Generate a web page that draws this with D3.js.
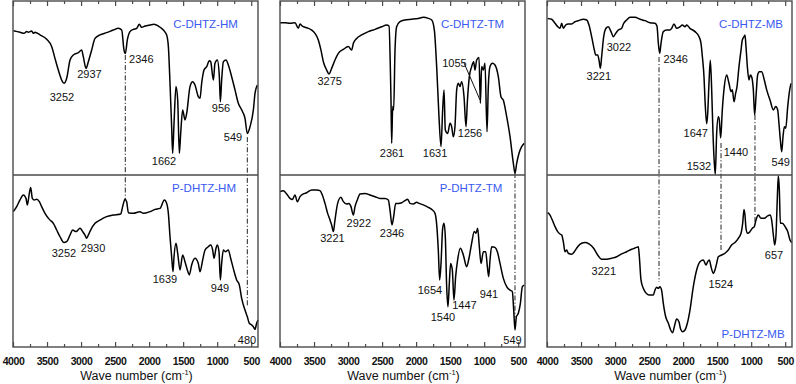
<!DOCTYPE html>
<html><head><meta charset="utf-8">
<script src="https://cdn.jsdelivr.net/npm/d3@7"></script>
<style>
body{margin:0;background:#fff;}
svg{display:block;font-family:"Liberation Sans",Arial,sans-serif;}
</style></head>
<body><svg id="c" width="796" height="384"></svg>
<script>
// ---------- DATA ----------
const majorTicks = [4000,3500,3000,2500,2000,1500,1000,500];
const minorTicks = [3750,3250,2750,2250,1750,1250,750];
const xTitle = "Wave number (cm";

const cHM = [[3995,82.9],[3897,82.0],[3838,81.4],[3799,82.4],[3775,82.0],[3726,82.8],[3701,81.4],[3677,82.0],[3603,80.5],[3505,78.0],[3432,73.8],[3383,67.0],[3334,60.3],[3285,54.6],[3251,52.7],[3211,55.6],[3162,66.1],[3113,69.0],[3040,70.3],[2991,71.8],[2967,68.0],[2927,61.3],[2893,65.1],[2844,71.8],[2795,78.5],[2722,80.5],[2624,81.8],[2526,83.3],[2452,84.3],[2403,83.3],[2369,71.8],[2349,69.9],[2320,77.6],[2281,82.4],[2232,83.7],[2183,84.3],[2144,86.6],[2109,84.9],[2060,85.6],[1987,86.2],[1928,86.6],[1864,85.6],[1791,83.3],[1742,80.5],[1717,73.8],[1693,52.7],[1669,27.8],[1654,12.5],[1634,29.7],[1605,50.8],[1580,43.1],[1556,12.5],[1536,23.9],[1507,37.4],[1473,31.6],[1448,35.4],[1399,50.8],[1360,53.6],[1326,51.7],[1277,45.0],[1252,44.1],[1228,52.7],[1193,60.3],[1154,62.3],[1115,65.7],[1095,65.1],[1056,54.6],[1032,64.2],[998,66.1],[968,56.5],[953,42.1],[934,54.6],[909,65.1],[870,66.1],[836,63.2],[787,56.5],[738,48.9],[689,41.2],[640,37.4],[591,32.6],[557,23.9],[517,27.8],[468,37.4],[444,46.9],[410,51.7]];

const pHM = [[3995,78.7],[3946,81.6],[3897,85.5],[3848,88.4],[3809,86.4],[3789,82.6],[3760,89.3],[3740,92.8],[3716,86.4],[3687,85.5],[3652,85.9],[3613,84.5],[3579,81.6],[3530,77.7],[3466,74.2],[3407,71.9],[3358,68.0],[3309,64.1],[3251,60.7],[3211,61.2],[3162,65.1],[3123,68.0],[3074,67.1],[3015,69.0],[2976,67.1],[2942,65.1],[2918,63.2],[2893,65.1],[2859,68.0],[2795,71.9],[2722,73.8],[2624,75.8],[2526,76.7],[2418,77.3],[2389,81.6],[2354,85.9],[2330,84.5],[2305,78.1],[2232,77.7],[2134,78.7],[2085,77.7],[1987,78.7],[1913,80.0],[1840,80.6],[1776,85.5],[1742,83.5],[1717,77.7],[1693,64.1],[1669,52.5],[1649,43.8],[1634,52.5],[1605,60.3],[1580,54.5],[1546,44.8],[1507,53.5],[1473,49.6],[1438,44.8],[1409,41.9],[1375,47.7],[1326,51.6],[1277,48.6],[1252,43.8],[1213,50.6],[1178,56.4],[1130,58.3],[1095,59.3],[1066,56.4],[1046,51.6],[1017,57.4],[998,59.3],[973,55.4],[953,39.0],[934,48.6],[909,56.4],[880,55.4],[836,56.4],[802,51.6],[763,45.7],[714,39.0],[674,36.0],[640,28.3],[591,21.5],[557,17.6],[528,13.8],[493,12.8],[468,11.8],[444,10.3],[420,13.8],[400,15.7]];

const cTM = [[4000,87.5],[3927,87.5],[3853,87.2],[3780,87.5],[3731,84.3],[3706,86.8],[3672,85.6],[3633,84.9],[3584,84.3],[3535,83.3],[3486,81.4],[3437,77.6],[3398,71.8],[3363,65.1],[3314,60.3],[3280,58.0],[3241,61.3],[3192,66.1],[3143,69.9],[3069,72.2],[2996,73.8],[2947,71.8],[2922,75.7],[2873,78.5],[2800,80.5],[2702,82.4],[2604,83.7],[2506,85.2],[2433,86.2],[2398,85.6],[2379,62.3],[2369,43.1],[2359,18.2],[2344,39.3],[2330,37.4],[2310,71.8],[2286,85.2],[2237,88.1],[2163,89.1],[2065,89.5],[1967,90.0],[1894,90.6],[1820,90.0],[1771,89.1],[1732,83.3],[1698,62.3],[1664,33.5],[1634,16.3],[1610,37.4],[1590,48.9],[1571,25.9],[1536,23.9],[1502,29.7],[1478,27.8],[1453,22.0],[1429,27.8],[1404,48.9],[1380,52.7],[1355,50.8],[1331,53.6],[1296,45.0],[1267,27.8],[1247,42.1],[1218,56.5],[1184,62.3],[1154,65.1],[1135,60.3],[1110,66.1],[1076,67.6],[1056,41.2],[1037,62.3],[1012,60.3],[988,64.2],[958,24.9],[939,50.8],[914,62.3],[880,64.2],[841,63.2],[792,56.5],[753,45.0],[718,42.9],[669,33.5],[620,22.0],[571,6.7],[547,1.0],[522,6.7],[488,12.5],[449,16.3],[410,18.2]];

const pTM = [[4000,90.3],[3951,90.9],[3902,89.0],[3853,86.4],[3819,85.7],[3780,88.4],[3745,84.5],[3706,87.4],[3657,89.0],[3608,89.7],[3535,91.3],[3461,91.3],[3412,90.9],[3378,88.4],[3339,83.5],[3300,77.7],[3265,73.8],[3241,70.9],[3216,67.1],[3192,73.8],[3153,83.5],[3104,87.0],[3069,84.5],[3020,83.1],[2986,83.5],[2957,81.6],[2922,76.7],[2898,81.6],[2864,85.5],[2824,89.0],[2751,89.3],[2678,88.4],[2604,87.4],[2531,86.4],[2457,86.4],[2408,85.5],[2384,79.7],[2354,70.9],[2330,75.8],[2300,83.5],[2261,83.5],[2212,83.9],[2163,85.1],[2124,85.9],[2090,83.5],[2041,83.1],[1992,84.1],[1958,83.5],[1894,82.6],[1820,81.2],[1771,80.0],[1722,77.7],[1693,69.0],[1674,56.4],[1654,39.0],[1634,48.6],[1610,69.0],[1590,71.9],[1571,64.1],[1551,35.1],[1532,23.4],[1512,37.0],[1493,48.6],[1468,44.8],[1444,27.3],[1419,40.9],[1390,50.6],[1350,57.4],[1306,53.5],[1257,46.7],[1223,51.6],[1184,60.3],[1145,67.1],[1120,66.1],[1096,69.0],[1071,58.3],[1046,48.6],[1012,55.4],[978,55.4],[953,46.7],[934,40.9],[914,50.6],[890,58.3],[841,57.9],[806,55.4],[767,48.6],[718,39.9],[669,35.1],[620,33.1],[586,32.2],[566,21.5],[547,9.9],[527,17.6],[498,19.6],[468,25.4],[439,35.1],[410,36.0]];

const cMB = [[3990,90.0],[3931,89.5],[3882,87.2],[3833,84.9],[3809,84.3],[3784,87.2],[3760,84.3],[3726,86.2],[3687,86.8],[3638,86.8],[3589,88.1],[3540,88.7],[3466,89.5],[3417,89.1],[3383,86.2],[3344,79.5],[3304,71.8],[3285,69.0],[3256,69.0],[3236,66.1],[3216,61.3],[3197,68.0],[3167,79.5],[3133,84.3],[3099,85.2],[3060,82.4],[3025,79.5],[2991,81.4],[2952,83.3],[2903,84.3],[2878,86.8],[2829,89.1],[2780,90.6],[2707,90.6],[2633,89.5],[2560,88.7],[2487,87.5],[2413,87.2],[2384,85.6],[2364,75.7],[2344,69.9],[2325,75.7],[2291,82.4],[2242,83.3],[2193,83.3],[2168,84.3],[2134,86.8],[2095,84.3],[2046,85.2],[2012,86.2],[1972,85.2],[1948,86.2],[1899,84.3],[1825,82.4],[1766,79.5],[1737,75.7],[1717,68.0],[1693,56.5],[1678,42.9],[1654,29.5],[1639,35.1],[1620,52.7],[1600,65.9],[1580,48.9],[1561,23.9],[1541,6.7],[1527,0.5],[1507,23.9],[1482,33.5],[1468,31.6],[1448,21.3],[1424,37.4],[1395,50.8],[1360,57.5],[1326,52.7],[1296,47.9],[1277,49.0],[1252,42.1],[1228,47.0],[1208,50.8],[1179,62.3],[1149,71.8],[1130,77.6],[1105,79.5],[1091,80.5],[1076,73.8],[1056,62.3],[1032,54.6],[1012,57.5],[993,56.5],[968,48.9],[949,34.5],[929,45.0],[905,57.5],[880,59.4],[846,59.4],[807,54.6],[772,48.9],[723,43.1],[674,37.4],[639,39.3],[610,37.4],[590,28.9],[571,20.1],[551,13.4],[532,22.0],[512,27.8],[492,26.8],[463,39.3],[434,48.9],[414,52.7]];

const pMB = [[3990,78.1],[3956,76.7],[3922,73.8],[3882,70.0],[3843,67.1],[3809,65.7],[3784,65.1],[3760,61.2],[3736,55.4],[3711,56.4],[3687,54.5],[3638,53.9],[3598,55.4],[3549,58.3],[3491,60.3],[3442,60.7],[3383,59.9],[3315,57.4],[3256,53.5],[3197,51.0],[3123,51.0],[3050,51.6],[2976,52.5],[2903,54.1],[2829,55.4],[2756,56.8],[2683,57.9],[2658,58.3],[2643,52.5],[2619,39.0],[2585,34.1],[2550,31.6],[2501,30.2],[2438,30.2],[2413,33.1],[2389,34.7],[2364,34.1],[2340,35.1],[2315,32.8],[2291,25.4],[2256,17.6],[2217,13.8],[2183,9.9],[2153,8.3],[2129,11.8],[2095,16.3],[2061,14.7],[2036,10.3],[2007,8.9],[1972,9.9],[1938,13.8],[1899,21.5],[1850,35.1],[1801,44.8],[1752,49.6],[1703,50.6],[1664,47.7],[1639,49.6],[1615,50.6],[1590,46.7],[1556,42.8],[1532,44.8],[1507,48.6],[1483,52.5],[1434,53.5],[1385,54.5],[1336,56.4],[1287,59.3],[1238,60.7],[1189,63.2],[1149,66.1],[1125,71.9],[1105,80.0],[1091,76.7],[1076,69.0],[1052,66.1],[1017,67.1],[983,69.0],[954,70.0],[929,73.8],[895,76.7],[856,74.8],[807,74.8],[758,76.2],[723,76.7],[699,73.8],[674,65.1],[654,59.3],[635,65.1],[615,87.4],[601,99.5],[586,91.3],[571,71.9],[541,71.9],[502,70.0],[463,67.1],[429,62.2],[404,60.7]];

// sample names
const namesTop = ["C-DHTZ-HM","C-DHTZ-TM","C-DHTZ-MB"];
const namesBot = ["P-DHTZ-HM","P-DHTZ-TM","P-DHTZ-MB"];
// name anchors in data space [wn, value]
const nameTopPos = [[1171,84.5],[1171,84.5],[1002,84.5]];
const nameBotPos = [[1193,90.1],[1193,90.1],[973,5.2]];

// peak annotations [text, wn, value]
const annCHM = [["3252",3280,42.5],["2937",2876,55.7],["2346",2115,64.4],["1662",1781,5.7],["956",944,36.2],["549",767,19.5]];
const annPHM = [["3252",3251,52.3],["2930",2824,55.2],["1639",1767,37.2],["949",958,32.0],["480",562,1.7]];
const annCTM = [["3275",3270,51.7],["2361",2354,10.3],["1631",1722,10.3],["1055",1436,62.1],["1256",1208,21.8]];
const annPTM = [["3221",3229,61.2],["2922",2842,69.8],["2346",2354,64.0],["1654",1796,30.8],["1540",1605,15.1],["1447",1289,22.1],["941",929,28.5],["549",584,1.7]];
const annCMB = [["3022",2942,71.4],["3221",3239,54.6],["2346",2109,64.4],["1647",1814,22.0],["1532",1767,2.9],["1440",1223,10.9],["549",565,5.2]];
const annPMB = [["3221",3165,41.9],["1524",1446,34.3],["657",664,51.2]];

// leader line for 1055 in C-DHTZ-TM: [wn1,v1,wn2,v2]
const leaderCTM = [1296,64.4,1061,43.1];

// dash-dot guide lines [wn, value in top panel, value in bottom panel]
const guidesHM = [[2350,69,85.5],[557,21.8,23.3]];
const guidesTM = [[547,1.1,17.4]];
const guidesMB = [[2354,67.8,37.8],[1443,18.4,55.2],[944,34.5,72.7]];

// ---------- DRAW ----------
const svg = d3.select("#c");
const panelLefts = [13,280,547];
const pw = 245, yTop0 = 1, yMid = 175, yBot0 = 347;
const panels = [
  {top:cHM, bot:pHM, annT:annCHM, annB:annPHM, guides:guidesHM},
  {top:cTM, bot:pTM, annT:annCTM, annB:annPTM, guides:guidesTM, leader:leaderCTM},
  {top:cMB, bot:pMB, annT:annCMB, annB:annPMB, guides:guidesMB}
];
const frameColor = "#4a4a4a";

panels.forEach((p,i)=>{
  const L = panelLefts[i];
  const x = d3.scaleLinear().domain([4000,400]).range([L, L+pw]);
  const yT = d3.scaleLinear().domain([0,100]).range([yMid, yTop0]);
  const yB = d3.scaleLinear().domain([0,100]).range([yBot0, yMid]);
  const g = svg.append("g");

  // guides
  p.guides.forEach(d=>{
    g.append("line").attr("x1",x(d[0])).attr("x2",x(d[0]))
      .attr("y1",yT(d[1])).attr("y2",yB(d[2]))
      .attr("stroke","#222").attr("stroke-width",1)
      .attr("stroke-dasharray","5,2,1.2,2");
  });

  const line = (ys)=>d3.line().x(d=>x(d[0])).y(d=>ys(d[1])).curve(d3.curveMonotoneX);
  g.append("path").datum(p.top).attr("d",line(yT)).attr("fill","none")
    .attr("stroke","#000").attr("stroke-width",1.5).attr("stroke-linejoin","round");
  g.append("path").datum(p.bot).attr("d",line(yB)).attr("fill","none")
    .attr("stroke","#000").attr("stroke-width",1.5).attr("stroke-linejoin","round");

  // frame
  g.append("rect").attr("x",L).attr("y",yTop0).attr("width",pw).attr("height",yBot0-yTop0)
    .attr("fill","none").attr("stroke",frameColor).attr("stroke-width",1.4);
  g.append("line").attr("x1",L).attr("x2",L+pw).attr("y1",yMid).attr("y2",yMid)
    .attr("stroke",frameColor).attr("stroke-width",1.4);

  // top ticks
  const at = g.append("g").attr("transform",`translate(0,${yTop0})`)
    .call(d3.axisTop(x).tickValues(majorTicks).tickSize(-5).tickFormat(""));
  const atm = g.append("g").attr("transform",`translate(0,${yTop0})`)
    .call(d3.axisTop(x).tickValues(minorTicks).tickSize(-3).tickFormat(""));
  // bottom axis
  const ab = g.append("g").attr("transform",`translate(0,${yBot0})`)
    .call(d3.axisBottom(x).tickValues(majorTicks).tickSize(-5).tickPadding(10.5).tickFormat(d3.format("d")));
  const abm = g.append("g").attr("transform",`translate(0,${yBot0})`)
    .call(d3.axisBottom(x).tickValues(minorTicks).tickSize(-3).tickFormat(""));
  [at,atm,ab,abm].forEach(a=>{
    a.select(".domain").remove();
    a.selectAll("line").attr("stroke",frameColor).attr("stroke-width",1.2);
  });
  ab.selectAll("text").attr("font-size",10.5).attr("font-weight","bold")
    .attr("fill","#111").attr("letter-spacing","-0.4")
    .attr("font-family","'Liberation Sans',Arial,sans-serif");

  // axis title
  const t = g.append("text").attr("x",L+pw/2+1).attr("y",379.5).attr("text-anchor","middle")
    .attr("font-size",12.5).attr("fill","#111");
  t.append("tspan").text(xTitle);
  t.append("tspan").attr("font-size",7.5).attr("dy",-4.5).text("-1");
  t.append("tspan").attr("dy",4.5).text(")");

  // sample names
  g.append("text").attr("x",x(nameTopPos[i][0])).attr("y",yT(nameTopPos[i][1]))
    .attr("text-anchor","middle").attr("font-size",11.5).attr("fill","#3a5af0").text(namesTop[i]);
  g.append("text").attr("x",x(nameBotPos[i][0])).attr("y",yB(nameBotPos[i][1]))
    .attr("text-anchor","middle").attr("font-size",11.5).attr("fill","#3a5af0").text(namesBot[i]);

  // annotations
  const ann = (arr, ys)=>arr.forEach(a=>{
    g.append("text").attr("x",x(a[1])).attr("y",ys(a[2])).attr("text-anchor","middle")
      .attr("font-size",11).attr("fill","#111").text(a[0]);
  });
  ann(p.annT, yT); ann(p.annB, yB);

  if(p.leader){
    const l = p.leader;
    g.append("line").attr("x1",x(l[0])).attr("y1",yT(l[1])).attr("x2",x(l[2])).attr("y2",yT(l[3]))
      .attr("stroke","#111").attr("stroke-width",1);
  }
});
</script></body></html>
